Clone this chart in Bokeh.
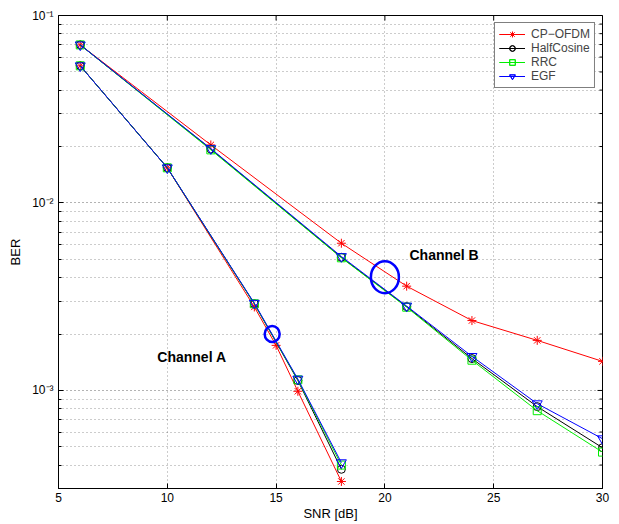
import math
from bokeh.plotting import figure
from bokeh.models import Range1d, FixedTicker, CustomJSTickFormatter
from bokeh.core.properties import value
from bokeh.embed import file_html
from bokeh.resources import INLINE

# ---- data ----
snr_a = [6, 10, 14, 16, 18]
snr_a_cp = [6, 10, 14, 15, 16, 18]
cp_a = [0.0539, 0.0154, 0.00279, 0.00174, 0.00099, 0.000327]
half_a = [0.0539, 0.0154, 0.0029, 0.00113, 0.00038]
rrc_a = [0.0539, 0.0154, 0.0029, 0.00114, 0.000400]
egf_a = [0.0539, 0.0154, 0.00292, 0.00115, 0.000412]

snr_b = [6, 12, 18, 21, 24, 27, 30]
cp_b = [0.0697, 0.0204, 0.0061, 0.0036, 0.00236, 0.00185, 0.00143]
half_b = [0.0697, 0.0194, 0.00513, 0.0028, 0.00148, 0.00082, 0.000495]
rrc_b = [0.0697, 0.0192, 0.0051, 0.00278, 0.00145, 0.00078, 0.000469]
egf_b = [0.0697, 0.0195, 0.00518, 0.00282, 0.00152, 0.00085, 0.000553]

x_ticks = [5, 10, 15, 20, 25, 30]
y_ticks = [1e-3, 1e-2, 1e-1]
y_minor = [3e-4, 4e-4, 5e-4, 6e-4, 7e-4, 8e-4, 9e-4,
           2e-3, 3e-3, 4e-3, 5e-3, 6e-3, 7e-3, 8e-3, 9e-3,
           2e-2, 3e-2, 4e-2, 5e-2, 6e-2, 7e-2, 8e-2, 9e-2]

# annotations
circle_x = [14.82, 20.0]
circle_y = [0.0020, 0.00402]
circle_w = [15, 28]
circle_h = [16, 32]
note_x = [9.54, 21.13]
note_y = [0.00151, 0.00529]
note_text = ["Channel A", "Channel B"]

FONT = "Liberation Sans"
X0, X1 = 5, 30
Y0, Y1 = 3e-4, 0.1

p = figure(frame_width=544, frame_height=473,
           x_range=Range1d(X0, X1), y_range=Range1d(Y0, Y1),
           y_axis_type="log", output_backend="svg", toolbar_location=None,
           min_border_left=58, min_border_right=17, min_border_top=15,
           min_border_bottom=36)
p.background_fill_color = "white"
p.border_fill_color = "white"
p.outline_line_color = "black"
p.outline_line_width = 1

xt = FixedTicker(ticks=x_ticks, minor_ticks=[])
yt = FixedTicker(ticks=y_ticks, minor_ticks=y_minor)
sup_code = """
const sup = {'-':'\u207b','0':'\u2070','1':'\u00b9','2':'\u00b2','3':'\u00b3',
             '4':'\u2074','5':'\u2075','6':'\u2076','7':'\u2077','8':'\u2078','9':'\u2079'};
const e = Math.round(Math.log10(tick));
return '10' + String(e).split('').map(c => sup[c]).join('');
"""

p.xaxis.ticker = xt
p.yaxis.ticker = yt
p.yaxis.formatter = CustomJSTickFormatter(code=sup_code)

for ax in (p.xaxis[0], p.yaxis[0]):
    ax.major_tick_in = 5
    ax.major_tick_out = 0
    ax.minor_tick_in = 3
    ax.minor_tick_out = 0
    ax.axis_line_color = "black"
    ax.major_tick_line_color = "black"
    ax.minor_tick_line_color = "black"
    ax.major_label_text_font = FONT
    ax.major_label_text_font_size = "12px"
    ax.major_label_text_color = "black"
    ax.axis_label_text_font = FONT
    ax.axis_label_text_font_size = "13px"
    ax.axis_label_text_font_style = "normal"
    ax.axis_label_text_color = "black"

p.xaxis.axis_label = "SNR [dB]"
p.yaxis.axis_label = "BER"
p.xaxis.major_label_standoff = 4
p.xaxis.axis_label_standoff = 1
p.yaxis.major_label_standoff = 5
p.yaxis.axis_label_standoff = 6

# ticks on the top and right edges of the box (MATLAB style)
p.scatter(x_ticks, [Y1] * len(x_ticks), marker="dash", angle=math.pi / 2,
          size=10, line_color="black", line_width=1)
p.scatter([X1] * len(y_ticks), y_ticks, marker="dash", size=10,
          line_color="black", line_width=1)
p.scatter([X1] * len(y_minor), y_minor, marker="dash", size=6,
          line_color="black", line_width=1)

p.xgrid.ticker = xt
p.ygrid.ticker = yt
p.xgrid.grid_line_color = "black"
p.xgrid.grid_line_alpha = 0.4
p.xgrid.grid_line_dash = "1 3"
p.ygrid.grid_line_color = "black"
p.ygrid.grid_line_alpha = 0.6
p.ygrid.grid_line_dash = "1 3"
p.ygrid.minor_grid_line_color = "black"
p.ygrid.minor_grid_line_alpha = 0.4
p.ygrid.minor_grid_line_dash = "1 3"

series = [
    ("CP\u2212OFDM", "#ff0000", "asterisk", 9, snr_a_cp, cp_a, snr_b, cp_b),
    ("HalfCosine", "#000000", "circle", 8, snr_a, half_a, snr_b, half_b),
    ("RRC", "#00ee00", "square", 8, snr_a, rrc_a, snr_b, rrc_b),
    ("EGF", "#0000ff", "inverted_triangle", 10, snr_a, egf_a, snr_b, egf_b),
]
for name, col, mk, sz, xa, ya, xb, yb in series:
    for xs, ys in ((xa, ya), (xb, yb)):
        p.line(xs, ys, line_color=col, line_width=1, legend_label=name)
        p.scatter(xs, ys, marker=mk, size=sz, line_color=col,
                  fill_color=None, line_width=1, legend_label=name)

p.ellipse(x=circle_x, y=circle_y, width=circle_w, height=circle_h,
          width_units="screen", height_units="screen",
          fill_color=None, line_color="#0000ff", line_width=2.5)

p.text(x=note_x, y=note_y, text=note_text, text_font=value(FONT),
       text_font_size="14px", text_font_style="bold", text_color="black",
       text_baseline="middle", text_align="left")

lg = p.legend[0]
lg.location = "top_right"
lg.margin = 7
lg.padding = 4
lg.spacing = 0
lg.label_height = 14
lg.glyph_height = 14
lg.glyph_width = 26
lg.label_standoff = 6
lg.label_text_font = FONT
lg.label_text_font_size = "12px"
lg.border_line_color = "black"
lg.border_line_width = 1
lg.background_fill_alpha = 1.0

open("out.html", "w").write(file_html(p, INLINE))
